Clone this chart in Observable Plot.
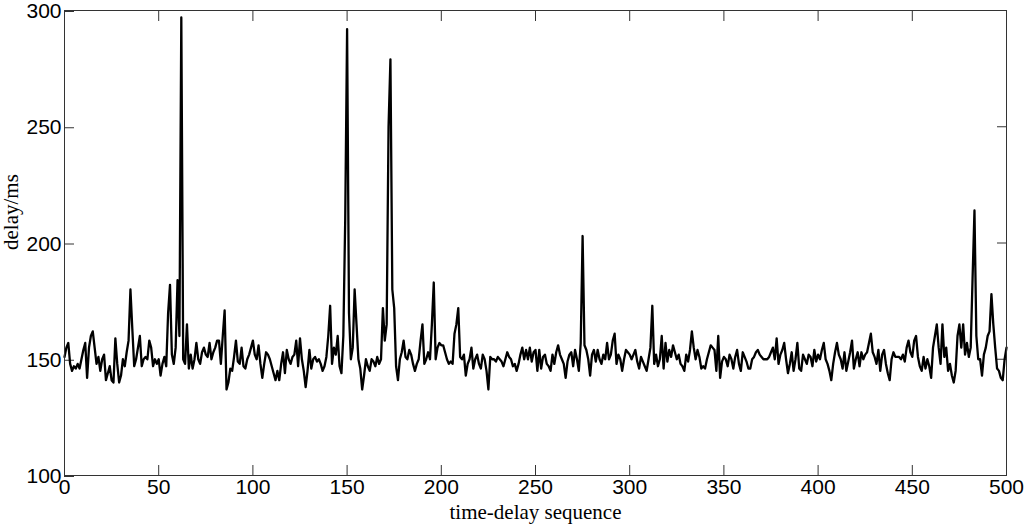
<!DOCTYPE html>
<html><head><meta charset="utf-8">
<script src="https://cdn.jsdelivr.net/npm/d3@7"></script>
<script src="https://cdn.jsdelivr.net/npm/@observablehq/plot@0.6"></script>
<style>body{margin:0;background:#fff} svg{display:block}</style>
</head><body><div id="chart"></div>
<script>
// delay (ms) for each index 0..500 of the time-delay sequence
const delay = [
151,155,157,148,145,147,146,148,146,150,
154,157,142,155,160,162,155,148,151,145,
150,152,141,144,147,141,140,159,148,140,
143,150,147,153,158,180,163,147,150,155,
160,147,150,151,150,158,155,147,150,148,
150,143,148,151,147,170,182,152,148,155,
184,160,297,150,148,165,146,152,146,150,
157,150,148,153,155,152,151,157,150,153,
155,158,158,148,160,171,137,140,146,145,
151,158,149,148,155,147,146,150,152,155,
158,152,150,156,148,142,148,153,152,150,
147,144,141,145,141,148,153,144,154,150,
148,151,152,158,147,159,150,145,138,145,
154,146,150,151,149,150,148,145,147,151,
160,173,148,155,152,160,147,144,160,210,
292,170,150,155,180,165,150,146,137,143,
150,147,145,150,149,147,151,148,150,172,
158,165,250,279,180,172,147,141,150,153,
158,151,150,154,152,148,145,148,150,158,
165,148,150,153,150,165,183,150,155,157,
156,156,153,150,148,149,148,161,165,172,
151,150,152,143,148,150,155,146,150,152,
148,146,152,150,145,137,151,150,150,149,
151,150,149,147,150,153,151,150,147,148,
145,148,152,155,150,154,150,155,149,153,
154,145,154,146,151,152,148,147,145,152,
148,153,156,152,150,148,142,149,152,153,
147,154,150,145,157,203,156,154,150,143,
152,154,149,154,150,148,152,150,157,150,
152,158,161,148,152,150,145,150,154,153,
152,150,152,154,149,146,151,149,147,145,
150,155,173,148,152,147,150,160,146,157,
149,154,151,156,153,150,152,148,147,145,
152,149,154,162,155,150,154,151,146,147,
146,150,153,156,155,154,145,160,142,149,
151,150,147,152,150,146,151,154,148,145,
153,151,149,146,146,150,151,153,154,152,
151,150,150,150,151,153,155,150,159,148,
152,154,157,150,144,148,153,145,150,157,
146,145,152,150,148,152,151,147,154,149,
152,150,154,157,150,148,145,141,148,153,
157,152,150,146,153,145,149,153,158,146,
150,153,147,153,150,152,153,157,161,153,
151,148,154,145,152,154,148,144,141,150,
153,151,151,151,150,152,149,155,158,153,
151,158,160,151,147,145,151,146,150,147,
142,155,160,165,155,148,165,151,155,145,
148,143,140,145,160,165,155,165,152,157,
151,155,185,214,160,150,150,143,152,155,
160,162,178,165,155,146,145,142,141,150,
155
];
const xTicks = [0, 50, 100, 150, 200, 250, 300, 350, 400, 450, 500];
const yTicks = [100, 150, 200, 250, 300];
const xDomain = [0, 500];
const yDomain = [100, 300];
const xLabel = "time-delay sequence";
const yLabel = "delay/ms";

const data = delay.map((v, i) => ({i, v}));

const chart = Plot.plot({
  width: 1024,
  height: 531,
  marginLeft: 64,
  marginRight: 18,
  marginTop: 10,
  marginBottom: 56,
  style: {fontFamily: "'Liberation Sans', Arial, sans-serif", fontSize: "21px", color: "#000", background: "#fff"},
  x: {domain: xDomain},
  y: {domain: yDomain},
  marks: [
    Plot.axisX({ticks: xTicks, tickSize: -10, tickPadding: 14, label: null, stroke: "#333", fontSize: 21}),
    Plot.axisX({anchor: "top", ticks: xTicks, tickSize: -10, tickFormat: () => "", label: null, stroke: "#333"}),
    Plot.axisY({ticks: yTicks, tickSize: -10, tickPadding: 13, dy: 1, label: null, stroke: "#333", fontSize: 21}),
    Plot.axisY({anchor: "right", ticks: yTicks, tickSize: -10, tickFormat: () => "", label: null, stroke: "#333"}),
    Plot.line(data, {x: "i", y: "v", stroke: "#000", strokeWidth: 2.3}),
    Plot.frame({stroke: "#333", strokeWidth: 1}),
    Plot.text([xLabel], {frameAnchor: "bottom", dy: 43, text: d => d, fontFamily: "'Liberation Serif', 'Times New Roman', serif", fontSize: 21, fill: "#000"}),
    Plot.text([yLabel], {frameAnchor: "left", dx: -53, dy: 7, rotate: -90, text: d => d, fontFamily: "'Liberation Serif', 'Times New Roman', serif", fontSize: 21, fill: "#000"})
  ]
});
document.getElementById("chart").appendChild(chart);
</script>
</body></html>
